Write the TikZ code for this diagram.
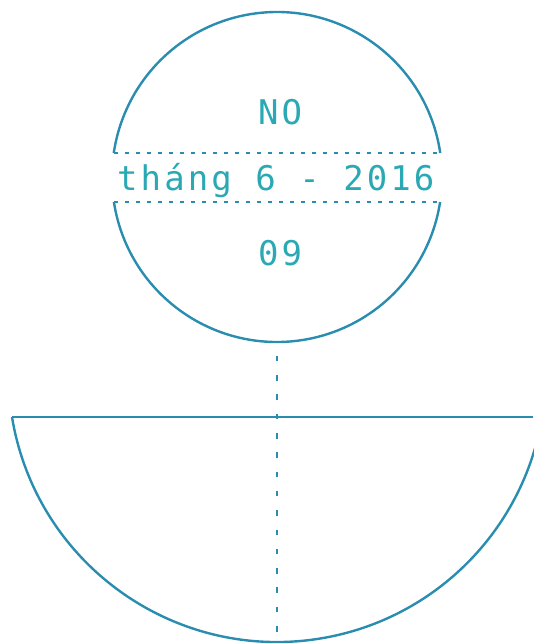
\documentclass[tikz,border=0pt]{standalone}
\usepackage{fontspec}
\newfontfamily\digifont[LetterSpace=9]{DejaVu Sans Mono}
\definecolor{linec}{HTML}{2A8DB0}
\definecolor{textc}{HTML}{2AA9B4}
\begin{document}
\begin{tikzpicture}[x=1pt,y=1pt,
  outline/.style={draw=linec,line width=2.4pt},
  hdots/.style={draw=linec,line width=2.4pt,dash pattern=on 4pt off 7pt},
  vdots/.style={draw=linec,line width=2.4pt,dash pattern=on 5.5pt off 13.8pt,dash phase=5.5pt},
  label/.style={inner sep=0pt,anchor=base west,text=textc,font=\digifont\fontsize{34}{34}\selectfont}]
\useasboundingbox (0,0) rectangle (533,-644);
% top circle, broken by the band
\coordinate (c1) at (277,-177);
\draw[outline] ([shift={(8.36:165)}]c1) arc[start angle=8.36,end angle=171.64,radius=165];
\draw[outline] ([shift={(188.71:165)}]c1) arc[start angle=188.71,end angle=351.29,radius=165];
\coordinate (b1l) at (114,-153); \coordinate (b1r) at (440,-153);
\coordinate (b2l) at (114,-202); \coordinate (b2r) at (440,-202);
\draw[hdots] (b1l) -- (b1r);
\draw[hdots] (b2l) -- (b2r);
\node[label] (no) at (258,-125) {NO};
\node[label] (date) at (117,-190) {tháng 6 - 2016};
\node[label] (num) at (258,-265) {09};
% bottom half disc
\coordinate (c2) at (277,-373.4);
\coordinate (tl) at (12,-417);
\coordinate (tr) at (533,-417);
\draw[outline] (tl) -- (tr);
\draw[outline] (tl) arc[start angle=189.34,end angle=352,radius=268.6];
% vertical dotted axis
\coordinate (vtop) at (277,-342);
\coordinate (vbot) at (277,-644);
\draw[vdots] (vtop) -- (vbot);
\end{tikzpicture}
\end{document}
